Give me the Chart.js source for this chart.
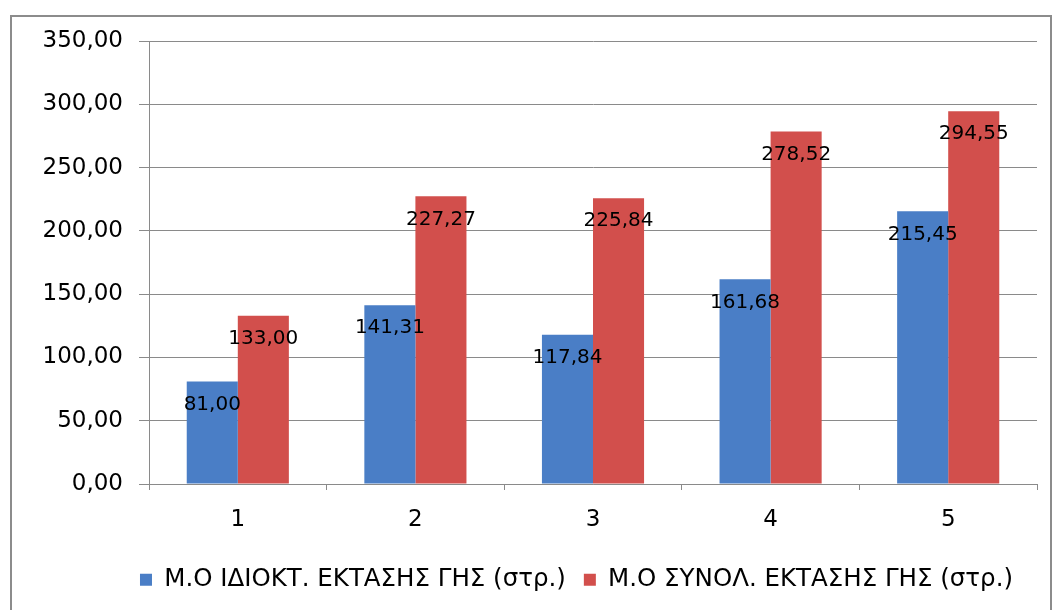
<!DOCTYPE html>
<html>
<head>
<meta charset="utf-8">
<script src="https://cdn.jsdelivr.net/npm/chart.js@4/dist/chart.umd.min.js"></script>
<style>
  html, body { margin: 0; padding: 0; background: #fff; }
  #wrap { width: 1053px; height: 610px; position: relative; }
</style>
</head>
<body>
<div id="wrap"><canvas id="landChart" width="1053" height="610"></canvas></div>
<script>
// Μέσος όρος έκτασης γης ανά κατηγορία (στρέμματα)
const categories = ["1", "2", "3", "4", "5"]
const ownedArea = [81.00, 141.31, 117.84, 161.68, 215.45]
const totalArea = [133.00, 227.27, 225.84, 278.52, 294.55]
const seriesNames = ["Μ.Ο ΙΔΙΟΚΤ. ΕΚΤΑΣΗΣ ΓΗΣ (στρ.)", "Μ.Ο ΣΥΝΟΛ. ΕΚΤΑΣΗΣ ΓΗΣ (στρ.)"]
const yTicks = [0, 50, 100, 150, 200, 250, 300, 350]

const fmt = (v) => v.toFixed(2).replace(".", ",")
const gridColor = "#8a8a8a"

// outer frame + white background
const framePlugin = {
  id: "frame",
  beforeDraw(chart) {
    const ctx = chart.ctx
    ctx.save()
    ctx.fillStyle = "#ffffff"
    ctx.fillRect(0, 0, chart.width, chart.height)
    ctx.strokeStyle = "#8c8c8c"
    ctx.lineWidth = 2
    ctx.strokeRect(11, 16, 1040, 610)
    ctx.restore()
  },
}

// legend sits centred under the plot area, not the whole canvas
const legendShift = {
  id: "legendShift",
  afterLayout(chart) {
    const lg = chart.legend
    if (!lg) return
    const dx = 58
    lg.left += dx
    lg.right += dx
  },
}

// value labels just under the top of each bar
const valueLabels = {
  id: "valueLabels",
  afterDatasetsDraw(chart) {
    const ctx = chart.ctx
    ctx.save()
    ctx.font = "20px 'DejaVu Sans'"
    ctx.fillStyle = "#000"
    ctx.textAlign = "center"
    ctx.textBaseline = "middle"
    chart.data.datasets.forEach((ds, i) => {
      chart.getDatasetMeta(i).data.forEach((bar, j) => {
        ctx.fillText(fmt(ds.data[j]), bar.x, bar.y + 23)
      })
    })
    ctx.restore()
  },
}

new Chart(document.getElementById("landChart"), {
  type: "bar",
  data: {
    labels: categories,
    datasets: [
      {
        label: seriesNames[0],
        data: ownedArea,
        backgroundColor: "#4a7ec6",
        borderWidth: 0,
      },
      {
        label: seriesNames[1],
        data: totalArea,
        backgroundColor: "#d24f4c",
        borderWidth: 0,
      },
    ],
  },
  options: {
    responsive: false,
    animation: false,
    devicePixelRatio: 1,
    layout: { padding: { left: 0, right: 16, top: 41, bottom: 8 } },
    categoryPercentage: 0.575,
    barPercentage: 1,
    plugins: {
      legend: {
        position: "bottom",
        labels: {
          boxWidth: 12,
          boxHeight: 12,
          padding: 18,
          color: "#000",
          font: { family: "'DejaVu Sans'", size: 24.5 },
        },
      },
      tooltip: { enabled: false },
    },
    scales: {
      x: {
        grid: {
          drawOnChartArea: false,
          offset: true,
          tickLength: 6,
          color: gridColor,
        },
        border: { display: true, color: gridColor },
        ticks: {
          color: "#000",
          padding: 16,
          font: { family: "'DejaVu Sans'", size: 23 },
        },
        afterFit(scale) {
          const legendH = scale.chart.legend ? scale.chart.legend.height : 60
          scale.height = scale.chart.height - 8 - 484 - legendH
        },
      },
      y: {
        min: 0,
        max: 350,
        afterBuildTicks(scale) {
          scale.ticks = yTicks.map((v) => ({ value: v }))
        },
        grid: { color: gridColor, tickLength: 10 },
        border: { display: true, color: gridColor },
        ticks: {
          color: "#000",
          padding: 16,
          font: { family: "'DejaVu Sans'", size: 23 },
          callback: (v) => fmt(v),
        },
        afterFit(scale) {
          scale.width = 149
        },
      },
    },
  },
  plugins: [framePlugin, legendShift, valueLabels],
})
</script>
</body>
</html>
